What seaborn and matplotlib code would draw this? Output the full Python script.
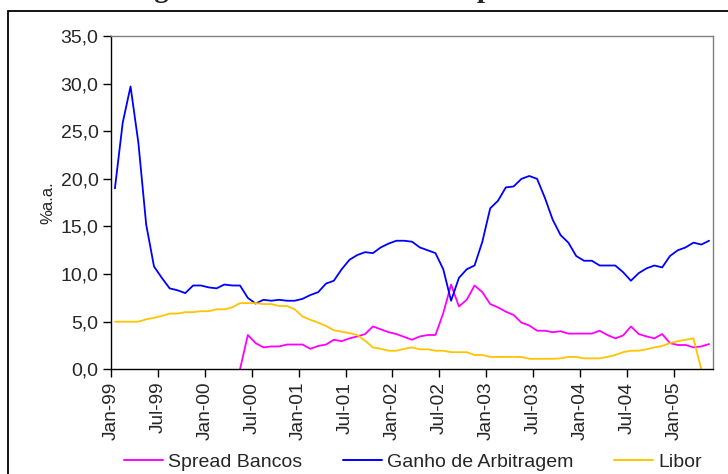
import numpy as np
import pandas as pd
import seaborn as sns
import matplotlib
matplotlib.use("Agg")
import matplotlib.pyplot as plt
from matplotlib.patches import Rectangle

# Monthly series, Jan-99 .. May-05 (77 months), in % a.a.
ganho_arbitragem = [19.0, 25.9, 29.7, 23.8, 15.2, 10.8, 9.6, 8.5, 8.3, 8.0,
                    8.8, 8.8, 8.6, 8.5, 8.9, 8.8, 8.8, 7.5, 6.9, 7.3,
                    7.2, 7.3, 7.2, 7.2, 7.4, 7.8, 8.1, 9.0, 9.3, 10.5,
                    11.5, 12.0, 12.3, 12.2, 12.8, 13.2, 13.5, 13.5, 13.4, 12.8,
                    12.5, 12.2, 10.5, 7.2, 9.6, 10.5, 10.9, 13.4, 16.9, 17.7,
                    19.1, 19.2, 20.0, 20.3, 20.0, 18.0, 15.7, 14.1, 13.3, 11.9,
                    11.4, 11.4, 10.9, 10.9, 10.9, 10.2, 9.3, 10.1, 10.6, 10.9,
                    10.7, 11.9, 12.5, 12.8, 13.3, 13.1, 13.5]

libor = [5.0, 5.0, 5.0, 5.0, 5.25, 5.4, 5.6, 5.85, 5.85, 6.0,
         6.0, 6.1, 6.1, 6.3, 6.3, 6.5, 6.95, 6.95, 6.95, 6.85,
         6.85, 6.65, 6.65, 6.3, 5.55, 5.2, 4.9, 4.55, 4.1, 3.95,
         3.8, 3.6, 3.0, 2.3, 2.15, 1.95, 1.95, 2.15, 2.3, 2.1,
         2.1, 1.95, 1.95, 1.8, 1.8, 1.8, 1.5, 1.5, 1.3, 1.3,
         1.3, 1.3, 1.3, 1.1, 1.1, 1.1, 1.1, 1.15, 1.3, 1.3,
         1.15, 1.15, 1.15, 1.3, 1.5, 1.8, 1.95, 1.95, 2.1, 2.3,
         2.45, 2.75, 2.95, 3.1, 3.25, 0.0, None]

spread_bancos = [None] * 16 + [
    0.0, 3.6, 2.75, 2.3, 2.4, 2.4, 2.6, 2.6, 2.6, 2.15,
    2.45, 2.6, 3.1, 2.95, 3.25, 3.45, 3.7, 4.5, 4.2, 3.9,
    3.7, 3.4, 3.1, 3.45, 3.6, 3.6, 5.9, 8.9, 6.6, 7.3,
    8.8, 8.1, 6.85, 6.5, 6.05, 5.7, 4.9, 4.6, 4.05, 4.05,
    3.9, 4.0, 3.75, 3.75, 3.75, 3.75, 4.05, 3.6, 3.25, 3.55,
    4.5, 3.7, 3.45, 3.25, 3.7, 2.75, 2.55, 2.55, 2.3, 2.4,
    2.65]

tick_labels = ["Jan-99", "Jul-99", "Jan-00", "Jul-00", "Jan-01", "Jul-01",
               "Jan-02", "Jul-02", "Jan-03", "Jul-03", "Jan-04", "Jul-04",
               "Jan-05"]

series_names = ["Spread Bancos", "Ganho de Arbitragem", "Libor"]
series_colors = ["#FF00FF", "#0000FF", "#FFC400"]

n_months = len(ganho_arbitragem)
frames = []
for name, vals in zip(series_names, [spread_bancos, ganho_arbitragem, libor]):
    frames.append(pd.DataFrame({
        "mes": np.arange(n_months) + 0.5,   # points sit in the middle of each month slot
        "valor": pd.to_numeric(pd.Series(vals), errors="coerce"),
        "serie": name,
    }))
df = pd.concat(frames, ignore_index=True).dropna()

sns.set_theme(style="white")
plt.rcParams["font.family"] = ["Liberation Sans", "DejaVu Sans"]

fig = plt.figure(figsize=(7.28, 4.74), dpi=100)
ax = fig.add_axes([111 / 728, 1 - 369.3 / 474, (713 - 111) / 728, (369.3 - 36) / 474])

sns.lineplot(data=df, x="mes", y="valor", hue="serie", hue_order=series_names,
             palette=dict(zip(series_names, series_colors)), estimator=None,
             sort=False, linewidth=1.3, ax=ax, legend=False)

ax.set_xlim(0, n_months)
ax.set_ylim(0, 35)
ax.set_xticks(np.arange(0, 6 * len(tick_labels), 6))
ax.set_xticklabels(tick_labels, rotation=90, fontsize=13.8)
yt = np.arange(0, 35.1, 5)
ax.set_yticks(yt)
ax.set_yticklabels([f"{v:.1f}".replace(".", ",") for v in yt], fontsize=14)
ax.set_xlabel("")
ax.set_ylabel("%a.a.", fontsize=12, labelpad=4)
ax.tick_params(axis="both", direction="out", length=6, width=1, color="black",
               pad=3, left=True, bottom=True)

for side in ["left", "bottom"]:
    ax.spines[side].set_color("black")
    ax.spines[side].set_linewidth(1.0)
for side in ["top", "right"]:
    ax.spines[side].set_color("#808080")
    ax.spines[side].set_linewidth(1.0)

handles = [plt.Line2D([], [], color=c, lw=1.4) for c in series_colors]
fig.legend(handles, series_names, loc="center", bbox_to_anchor=(413 / 728, 1 - 462 / 474),
           ncol=3, frameon=False, fontsize=14, handlelength=2.0, handletextpad=0.25,
           columnspacing=2.1)

# outer frame of the chart object
fig.add_artist(Rectangle((8 / 728, -0.05), 1.0, 1.05 - 11 / 474, transform=fig.transFigure,
                         fill=False, edgecolor="black", linewidth=1.3, clip_on=False))

# figure heading, sitting above the frame
fig.text(0.5, 1 + 2.5 / 474, "Arbitragem de Taxas de Juros e Spread Bancário",
         ha="center", va="baseline", fontsize=21, fontweight="bold",
         family=["Liberation Serif", "DejaVu Serif"])

fig.savefig("out.png", dpi=100)
